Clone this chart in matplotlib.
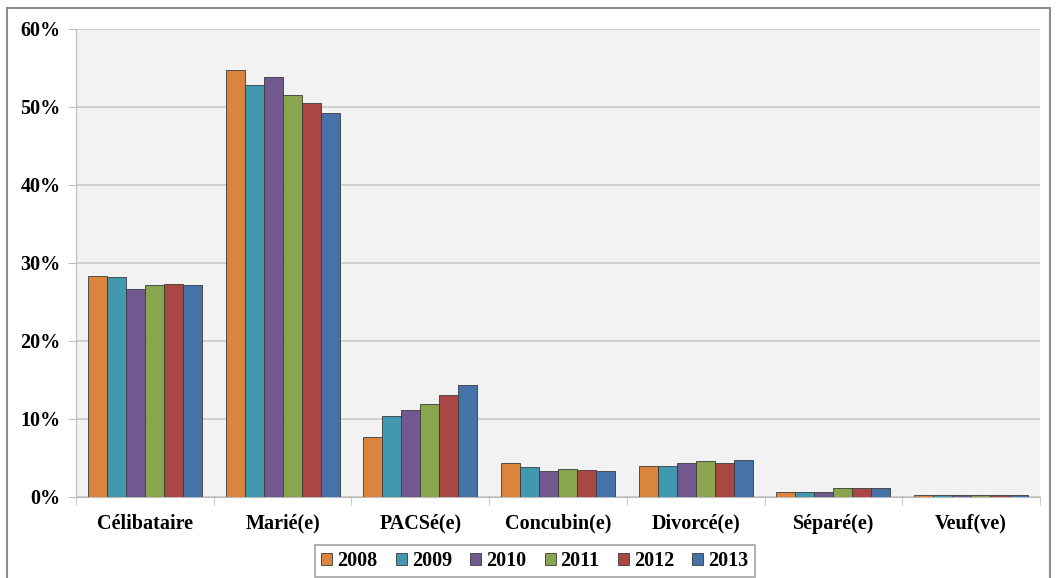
import numpy as np
import matplotlib
matplotlib.use("Agg")
import matplotlib.pyplot as plt
from matplotlib.patches import Rectangle
from matplotlib.ticker import FuncFormatter

categories = ["Célibataire", "Marié(e)", "PACSé(e)", "Concubin(e)",
              "Divorcé(e)", "Séparé(e)", "Veuf(ve)"]
years = ["2008", "2009", "2010", "2011", "2012", "2013"]
v2008 = [28.3, 54.7, 7.7, 4.4, 4.0, 0.6, 0.2]
v2009 = [28.2, 52.8, 10.4, 3.9, 4.0, 0.6, 0.2]
v2010 = [26.7, 53.8, 11.1, 3.3, 4.4, 0.6, 0.2]
v2011 = [27.2, 51.5, 11.9, 3.6, 4.6, 1.1, 0.2]
v2012 = [27.3, 50.5, 13.1, 3.5, 4.4, 1.1, 0.2]
v2013 = [27.2, 49.2, 14.4, 3.3, 4.7, 1.1, 0.3]
series = [v2008, v2009, v2010, v2011, v2012, v2013]
colors = ["#DB843D", "#4198AF", "#71588F", "#89A54E", "#AA4643", "#4572A7"]

plt.rcParams['font.family'] = ['Liberation Serif', 'DejaVu Serif']
plt.rcParams['font.weight'] = 'bold'

fig = plt.figure(figsize=(10.57, 5.78), dpi=100)
ax = fig.add_axes([76 / 1057, 1 - 497 / 578, (1040 - 76) / 1057, (497 - 29) / 578])
ax.set_facecolor("#F2F2F2")

# outer frame
fig.patches.append(Rectangle((7 / 1057, -0.01), (1050 - 7) / 1057, 1 - 8 / 578 + 0.01,
                             transform=fig.transFigure, fill=False,
                             edgecolor="#8C8C8C", linewidth=1.5))

x = np.arange(len(categories))
w = 0.138
for i, (vals, col) in enumerate(zip(series, colors)):
    ax.bar(x + (i - 2.5) * w, vals, w, color=col, edgecolor="#3a3a3a",
           linewidth=0.6, label=years[i], zorder=3)

ax.set_xlim(-0.5, len(categories) - 0.5)
ax.set_ylim(0, 60)
ax.set_yticks(range(0, 61, 10))
ax.yaxis.set_major_formatter(FuncFormatter(lambda v, p: f"{int(v)}%"))
ax.grid(axis="y", color="#C8C8C8", linewidth=1.2, zorder=0)
ax.set_xticks(x)
ax.set_xticklabels(categories, fontsize=14.5, fontweight="bold")
ax.set_xticks(np.arange(-0.5, len(categories)), minor=True)
ax.tick_params(axis="x", which="major", length=0, pad=12)
ax.tick_params(axis="x", which="minor", length=6, color="#BBBBBB")
ax.tick_params(axis="y", length=6, color="#BBBBBB", labelsize=14.5, pad=5)
for lab in ax.get_yticklabels():
    lab.set_fontweight("bold")
for s in ["top", "right"]:
    ax.spines[s].set_visible(False)
ax.spines["left"].set_color("#BBBBBB")
ax.spines["bottom"].set_color("#BBBBBB")

leg = ax.legend(loc="center", bbox_to_anchor=((535 - 76) / (1040 - 76), -(561 - 497) / 468),
                ncol=6, frameon=True, fancybox=False, fontsize=14.5,
                handlelength=0.55, handleheight=0.55, handletextpad=0.25,
                columnspacing=0.9, borderpad=0.3)
leg.get_frame().set_edgecolor("#8C8C8C")
leg.get_frame().set_linewidth(1.2)

fig.savefig("out.png", dpi=100)
